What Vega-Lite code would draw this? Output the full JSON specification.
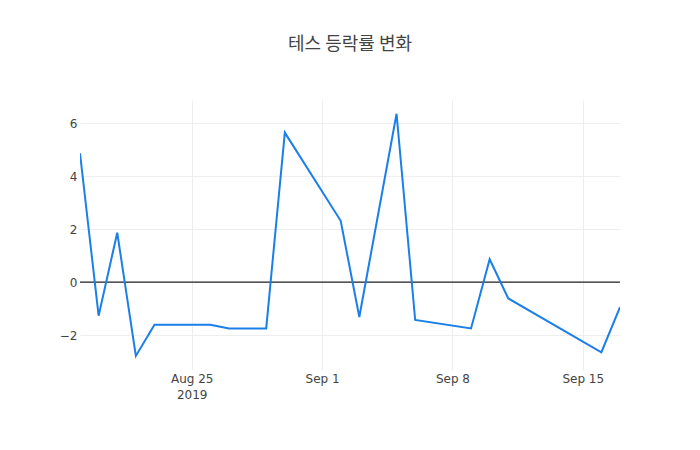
{
  "$schema": "https://vega.github.io/schema/vega-lite/v6.json",
  "width": 540,
  "height": 270,
  "autosize": "none",
  "padding": {"left": 80, "right": 80, "top": 100, "bottom": 80},
  "background": "white",
  "title": {
    "text": "테스 등락률 변화",
    "font": "Noto Sans CJK KR",
    "fontSize": 18,
    "fontWeight": "normal",
    "color": "#444",
    "anchor": "middle",
    "offset": 46
  },
  "config": {
    "view": {"stroke": null},
    "axis": {
      "labelFont": "DejaVu Sans",
      "labelFontSize": 12,
      "labelColor": "#444",
      "gridColor": "#eeeeee",
      "gridWidth": 1,
      "domain": false,
      "ticks": false,
      "title": null
    }
  },
  "data": {
    "values": [
      {"date": "2019-08-19T00:00:00", "change": 4.86},
      {"date": "2019-08-20T00:00:00", "change": -1.27},
      {"date": "2019-08-21T00:00:00", "change": 1.86},
      {"date": "2019-08-22T00:00:00", "change": -2.79},
      {"date": "2019-08-23T00:00:00", "change": -1.61},
      {"date": "2019-08-26T00:00:00", "change": -1.61},
      {"date": "2019-08-27T00:00:00", "change": -1.75},
      {"date": "2019-08-29T00:00:00", "change": -1.75},
      {"date": "2019-08-30T00:00:00", "change": 5.64},
      {"date": "2019-09-02T00:00:00", "change": 2.31},
      {"date": "2019-09-03T00:00:00", "change": -1.32},
      {"date": "2019-09-05T00:00:00", "change": 6.35},
      {"date": "2019-09-06T00:00:00", "change": -1.43},
      {"date": "2019-09-09T00:00:00", "change": -1.75},
      {"date": "2019-09-10T00:00:00", "change": 0.86},
      {"date": "2019-09-11T00:00:00", "change": -0.62},
      {"date": "2019-09-16T00:00:00", "change": -2.65},
      {"date": "2019-09-17T00:00:00", "change": -0.95}
    ]
  },
  "layer": [
    {
      "data": {"values": [{"zero": 0}]},
      "mark": {"type": "rule", "color": "#222", "strokeWidth": 1.2},
      "encoding": {"y": {"field": "zero", "type": "quantitative"}}
    },
    {
      "mark": {"type": "line", "color": "#1a7fe8", "strokeWidth": 2, "clip": true},
      "encoding": {
        "x": {
          "field": "date",
          "type": "temporal",
          "scale": {
            "domain": [
              {"year": 2019, "month": 8, "date": 19},
              {"year": 2019, "month": 9, "date": 17}
            ],
            "nice": false
          },
          "axis": {
            "values": [
              {"year": 2019, "month": 8, "date": 25},
              {"year": 2019, "month": 9, "date": 1},
              {"year": 2019, "month": 9, "date": 8},
              {"year": 2019, "month": 9, "date": 15}
            ],
            "labelExpr": "datum.index == 0 ? [timeFormat(datum.value, '%b %-d'), '2019'] : timeFormat(datum.value, '%b %-d')",
            "labelPadding": 3,
            "labelLineHeight": 16
          }
        },
        "y": {
          "field": "change",
          "type": "quantitative",
          "scale": {"domain": [-3.32, 6.87], "nice": false, "zero": false},
          "axis": {"values": [-2, 0, 2, 4, 6], "labelPadding": 3, "labelExpr": "replace(datum.label, '-', '−')"}
        }
      }
    }
  ]
}
